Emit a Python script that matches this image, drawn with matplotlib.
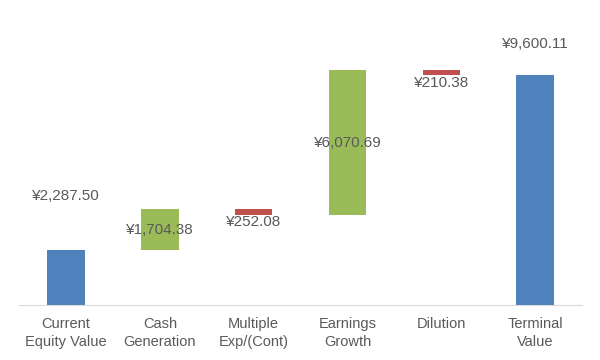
import matplotlib
matplotlib.use("Agg")
import matplotlib.pyplot as plt
import numpy as np

categories = ["Current\nEquity Value", "Cash\nGeneration", "Multiple\nExp/(Cont)",
              "Earnings\nGrowth", "Dilution", "Terminal\nValue"]
changes = [2287.50, 1704.38, -252.08, 6070.69, -210.38, 9600.11]
kinds = ["total", "step", "step", "step", "step", "total"]

BLUE, GREEN, RED = "#4F81BD", "#9BBB59", "#C0504D"
TEXT = "#595959"
# label placement: (anchor, pixel offset)
label_pos = [("top", 54), ("mid", 0), ("bottom", -7), ("mid", 0), ("bottom", -8), ("top", 31)]

plt.rcParams["font.family"] = ["Liberation Sans", "DejaVu Sans"]

fig = plt.figure(figsize=(6, 3.6), dpi=100)
ax = fig.add_axes([0.032, 0.153, 0.938, 0.798])

running = 0.0
x = np.arange(len(categories))
for i, (v, k) in enumerate(zip(changes, kinds)):
    if k == "total":
        bottom, height, color = 0.0, v, BLUE
        running = v
    else:
        if v >= 0:
            bottom, height, color = running, v, GREEN
        else:
            bottom, height, color = running + v, -v, RED
        running += v
    ax.bar(x[i], height, bottom=bottom, width=0.4, color=color)
    anchor, off = label_pos[i]
    if anchor == "top":
        y = bottom + height
    elif anchor == "mid":
        y = bottom + height / 2
    else:
        y = bottom
    ax.annotate("¥{:,.2f}".format(abs(v)), (x[i], y), xytext=(0, off),
                textcoords="offset pixels", ha="center", va="center",
                fontsize=11, color=TEXT)

ax.set_xlim(-0.5, len(categories) - 0.5)
ax.set_ylim(0, 12000)
ax.set_xticks(x)
ax.set_xticklabels(categories, fontsize=10.5, color=TEXT, linespacing=1.35)
ax.tick_params(axis="x", length=0, pad=9)
ax.set_yticks([])
for s in ["top", "left", "right"]:
    ax.spines[s].set_visible(False)
ax.spines["bottom"].set_color("#D9D9D9")

fig.savefig("out.png", dpi=100)
